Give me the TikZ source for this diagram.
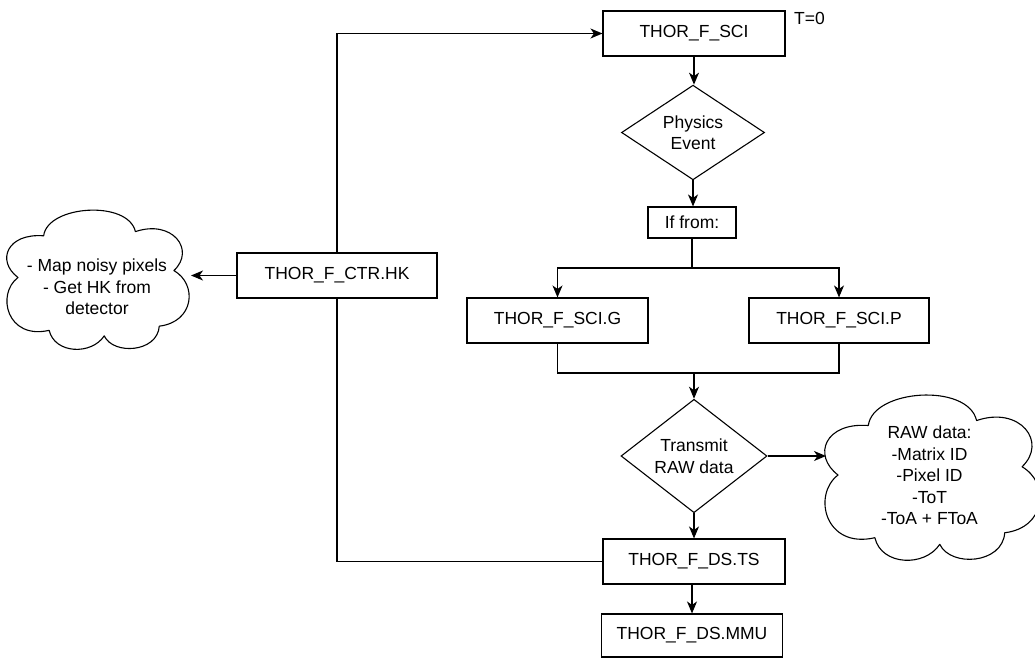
\documentclass[tikz,border=0pt]{standalone}
\usepackage{fontspec}
\setmainfont{Liberation Sans}
\usetikzlibrary{arrows.meta,shapes.geometric,backgrounds}
% cloud outline in a unit box (y pointing down)
\newcommand\cloudoutline{%
  \draw[cloudline] (0.22,0.20)
    .. controls (0.24,-0.02) and (0.68,-0.06) .. (0.72,0.17)
    .. controls (0.92,0.08) and (1.05,0.30) .. (0.93,0.45)
    .. controls (1.06,0.55) and (1.04,0.82) .. (0.85,0.85)
    .. controls (0.84,1.04) and (0.60,1.06) .. (0.55,0.92)
    .. controls (0.48,1.06) and (0.28,1.05) .. (0.25,0.88)
    .. controls (0.02,0.95) and (-0.04,0.62) .. (0.08,0.50)
    .. controls (-0.04,0.38) and (0.02,0.18) .. (0.22,0.20) -- cycle;}
\begin{document}
\begin{tikzpicture}[x=1pt,y=-1pt,
  font=\fontsize{17.5}{21.5}\selectfont,
  box/.style={draw, line width=1.1pt, fill=white, inner sep=0pt, align=center},
  dec/.style={diamond, draw, line width=1.1pt, fill=white, inner sep=0pt, align=center},
  link/.style={line width=1.1pt},
  arr/.style={link, -{Stealth[length=12pt,width=10pt,inset=3.5pt]}},
  cloudline/.style={line width=1.1pt, line join=round}]
\useasboundingbox (0,0) rectangle (1035,659);

% process boxes and decisions
\node[box, minimum width=182pt, minimum height=45pt] (sci) at (694,33.5) {THOR\_F\_SCI};
\node[anchor=west, inner sep=0pt] (t0) at (794,18) {T=0};
\node[dec, minimum width=143pt, minimum height=89pt] (ev) at (693,132.5) {Physics\\Event};
\node[box, minimum width=88pt, minimum height=31pt] (if) at (692,222.5) {If from:};
\node[box, minimum width=181pt, minimum height=45pt] (g) at (557.5,320.5) {THOR\_F\_SCI.G};
\node[box, minimum width=180pt, minimum height=45pt] (p) at (839,320.5) {THOR\_F\_SCI.P};
\node[dec, minimum width=146pt, minimum height=104pt] (tx) at (694,456) {Transmit\\RAW data};
\node[box, minimum width=182pt, minimum height=45pt] (ts) at (694,561.5) {THOR\_F\_DS.TS};
\node[box, minimum width=181pt, minimum height=43pt] (mmu) at (692,635.5) {THOR\_F\_DS.MMU};
\node[box, minimum width=200pt, minimum height=45pt] (hk) at (337,275.5) {THOR\_F\_CTR.HK};

% left cloud
\begin{scope}[shift={(3.3,208)}, x=183.5pt, y=-139pt]
  \cloudoutline
\end{scope}
\node[align=center, inner sep=0pt] (hknote) at (97,287) {- Map noisy pixels\\- Get HK from\\detector};
\coordinate (lc-in) at (191,275.5);

% right cloud
\begin{scope}[shift={(820.7,392.5)}, x=216.5pt, y=-165pt]
  \cloudoutline
\end{scope}
\node[align=center, inner sep=0pt] (rawnote) at (929.5,475.5) {RAW data:\\-Matrix ID\\-Pixel ID\\-ToT\\-ToA + FToA};
\coordinate (rc-in) at (826,456);

% connectors
\draw[arr] (sci.south) -- (sci.south |- ev.north);
\draw[arr] (ev.south) -- (ev.south |- if.north);
\coordinate (split) at (692,268);
\draw[link] (if.south) -- (split);
\draw[arr] (split) -| (g.north);
\draw[arr] (split) -| (p.north);
\coordinate (merge) at (694,373);
\draw[link] (g.south) |- (merge) -| (p.south);
\draw[arr] (merge) -- (tx.north);
\draw[arr] (tx.south) -- (ts.north);
\draw[arr] (mmu.north |- ts.south) -- (mmu.north);
\draw[arr] (tx.east) -- (rc-in);
\draw[arr] (hk.west) -- (lc-in);
\begin{pgfonlayer}{background}
  \draw[arr] (ts.west) -| (hk.center) |- (sci.west);
\end{pgfonlayer}
\end{tikzpicture}
\end{document}
